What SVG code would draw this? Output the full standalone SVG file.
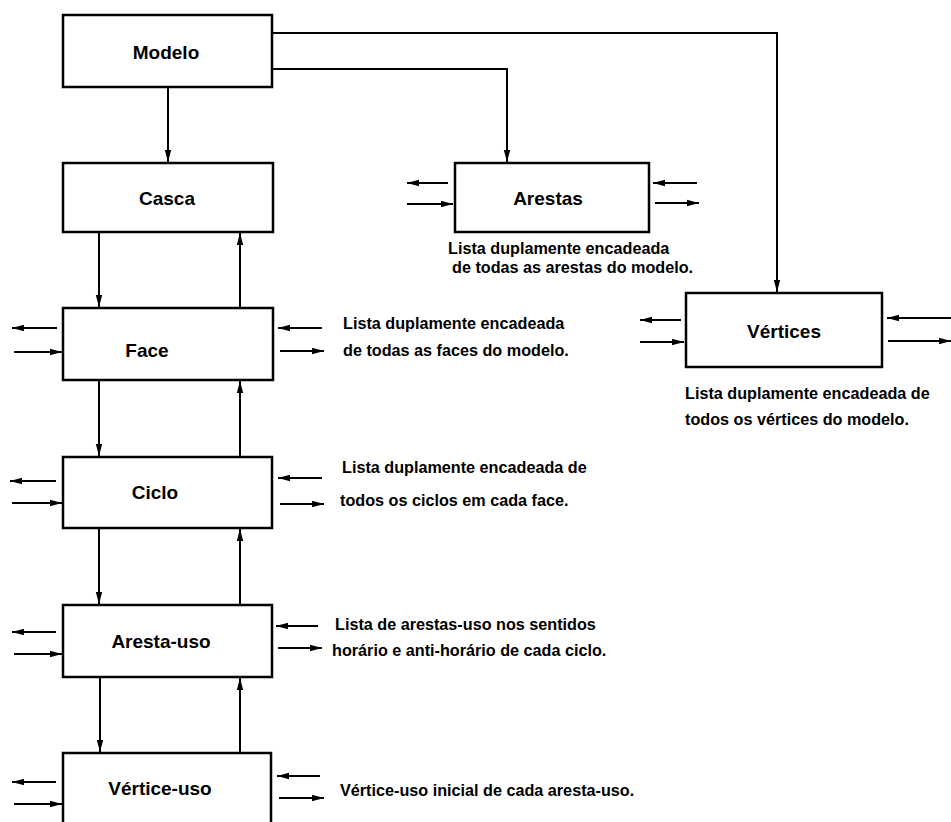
<svg xmlns="http://www.w3.org/2000/svg" width="951" height="822" viewBox="0 0 951 822">
  <style>
    .box { fill: #fff; stroke: #000; stroke-width: 2.5; }
    .lbl { font-family: "Liberation Sans", Arial, sans-serif; font-weight: bold; font-size: 19px; text-anchor: middle; fill: #000; }
    .desc { font-family: "Liberation Sans", Arial, sans-serif; font-weight: bold; font-size: 16.2px; fill: #000; }
    .ln { fill: none; stroke: #000; stroke-width: 2; marker-end: url(#ah); }
    .sl { fill: none; stroke: #000; stroke-width: 1.8; marker-end: url(#ah); }
  </style>
  <defs>
    <marker id="ah" markerUnits="userSpaceOnUse" markerWidth="14" markerHeight="10" refX="12" refY="4" orient="auto">
      <path d="M0,0.8 L12,4 L0,7.2 Z" fill="#000"/>
    </marker>
  </defs>
  <rect width="951" height="822" fill="#fff"/>

  <!-- connectors -->
  <g id="connectors">
    <!-- from Modelo -->
    <path class="ln" d="M168,87 V162"/>
    <path class="ln" d="M272,69 H507 V162"/>
    <path class="ln" d="M272,33 H777 V292"/>
    <!-- Casca / Face -->
    <path class="ln" d="M99,232 V307"/>
    <path class="ln" d="M240,308 V233"/>
    <!-- Face / Ciclo -->
    <path class="ln" d="M99,380 V456"/>
    <path class="ln" d="M240,457 V381"/>
    <!-- Ciclo / Aresta-uso -->
    <path class="ln" d="M99,528 V604"/>
    <path class="ln" d="M240,605 V529"/>
    <!-- Aresta-uso / Vertice-uso -->
    <path class="ln" d="M100,677 V752"/>
    <path class="ln" d="M240,753 V678"/>

    <!-- list links: Arestas -->
    <path class="sl" d="M448,183 H407"/>
    <path class="sl" d="M407,204 H453"/>
    <path class="sl" d="M697,183 H653"/>
    <path class="sl" d="M655,203 H699"/>
    <!-- Vertices -->
    <path class="sl" d="M681,320 H640"/>
    <path class="sl" d="M640,342 H684"/>
    <path class="sl" d="M951,318 H887"/>
    <path class="sl" d="M888,341 H951"/>
    <!-- Face -->
    <path class="sl" d="M57,328 H12"/>
    <path class="sl" d="M14,352 H62"/>
    <path class="sl" d="M322,328 H278"/>
    <path class="sl" d="M280,351 H324"/>
    <!-- Ciclo -->
    <path class="sl" d="M56,481 H10"/>
    <path class="sl" d="M12,503 H62"/>
    <path class="sl" d="M322,478 H278"/>
    <path class="sl" d="M280,504 H324"/>
    <!-- Aresta-uso -->
    <path class="sl" d="M56,632 H12"/>
    <path class="sl" d="M14,654 H62"/>
    <path class="sl" d="M318,626 H276"/>
    <path class="sl" d="M278,648 H322"/>
    <!-- Vertice-uso -->
    <path class="sl" d="M56,782 H12"/>
    <path class="sl" d="M14,804 H62"/>
    <path class="sl" d="M320,776 H277"/>
    <path class="sl" d="M279,798 H324"/>
  </g>

  <g id="modelo">
    <rect class="box" x="63" y="15" width="209" height="72"/>
    <text class="lbl" x="166" y="59">Modelo</text>
  </g>
  <g id="casca">
    <rect class="box" x="63" y="163" width="210" height="69"/>
    <text class="lbl" x="167" y="205">Casca</text>
  </g>
  <g id="arestas">
    <rect class="box" x="455" y="163" width="194" height="69"/>
    <text class="lbl" x="548" y="205">Arestas</text>
    <text class="desc" x="448" y="254">Lista duplamente encadeada</text>
    <text class="desc" x="452" y="273">de todas as arestas do modelo.</text>
  </g>
  <g id="vertices">
    <rect class="box" x="686" y="293" width="196" height="74"/>
    <text class="lbl" x="784" y="338">Vértices</text>
    <text class="desc" x="685" y="399">Lista duplamente encadeada de</text>
    <text class="desc" x="685" y="425">todos os vértices do modelo.</text>
  </g>
  <g id="face">
    <rect class="box" x="63" y="308" width="210" height="72"/>
    <text class="lbl" x="147" y="357">Face</text>
    <text class="desc" x="343" y="329">Lista duplamente encadeada</text>
    <text class="desc" x="343" y="356">de todas as faces do modelo.</text>
  </g>
  <g id="ciclo">
    <rect class="box" x="63" y="457" width="209" height="71"/>
    <text class="lbl" x="155" y="499">Ciclo</text>
    <text class="desc" x="342" y="473">Lista duplamente encadeada de</text>
    <text class="desc" x="340" y="506">todos os ciclos em cada face.</text>
  </g>
  <g id="aresta-uso">
    <rect class="box" x="63" y="605" width="209" height="72"/>
    <text class="lbl" x="161" y="648">Aresta-uso</text>
    <text class="desc" x="335" y="630">Lista de arestas-uso nos sentidos</text>
    <text class="desc" x="332" y="656">horário e anti-horário de cada ciclo.</text>
  </g>
  <g id="vertice-uso">
    <rect class="box" x="63" y="753" width="208" height="90"/>
    <text class="lbl" x="160" y="795">Vértice-uso</text>
    <text class="desc" x="340" y="796">Vértice-uso inicial de cada aresta-uso.</text>
  </g>
</svg>
